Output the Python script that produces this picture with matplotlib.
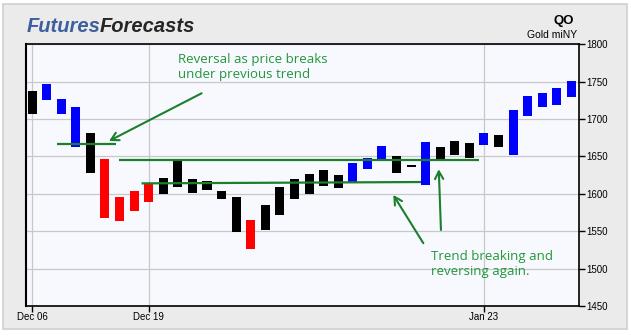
import matplotlib
matplotlib.use("Agg")
import matplotlib.pyplot as plt
from matplotlib import font_manager
from matplotlib.patches import Rectangle

# ---- data -------------------------------------------------------------
# Daily candle bodies (upper and lower edge of each body) for Gold miNY
body_top = [1737.5, 1747, 1727, 1716, 1681.5, 1647, 1596, 1604, 1614, 1621,
            1645, 1620, 1617, 1604, 1596, 1565.5, 1585, 1609, 1620, 1626.5,
            1632, 1625, 1641, 1648, 1664, 1650.5, 1638.5, 1669.5, 1662.5, 1670.5,
            1668, 1681.5, 1678.5, 1712, 1731, 1735, 1741.5, 1751]
body_bottom = [1707, 1726, 1707, 1663, 1628.5, 1568, 1564, 1577.5, 1589.5, 1600,
               1609.5, 1601.5, 1605.5, 1593, 1549.5, 1526.5, 1551.5, 1572, 1593, 1600,
               1610.5, 1608, 1614.5, 1633.5, 1645.5, 1628, 1636, 1612, 1645.5, 1652,
               1648, 1665.5, 1662.5, 1652, 1704, 1716, 1719, 1729.5]
# trend state of each bar: k = neutral, b = up trend, r = down trend
trend = ["k", "b", "b", "b", "k", "r", "r", "r", "r", "k",
         "k", "k", "k", "k", "k", "r", "k", "k", "k", "k",
         "k", "k", "b", "b", "b", "k", "k", "b", "k", "k",
         "k", "b", "k", "b", "b", "b", "b", "b"]
trend_colors = {"k": "#000000", "b": "#0000ff", "r": "#ff0000"}

date_tick_pos = [0, 8, 31]
date_tick_labels = ["Dec 06", "Dec 19", "Jan 23"]
price_ticks = [1450, 1500, 1550, 1600, 1650, 1700, 1750, 1800]

# trend lines drawn on the chart: (x0, y0, x1, y1)
trend_lines = [(1.72, 1666.3, 5.74, 1666.3),
               (5.97, 1645.3, 30.66, 1645.3),
               (7.51, 1614.0, 26.68, 1615.8)]
# arrows: (tail x, tail y, head x, head y)
arrows = [(11.63, 1734.5, 5.28, 1670.7),
          (26.84, 1534.0, 24.78, 1598.5),
          (28.05, 1551.7, 27.90, 1632.9)]
note_reversal = "Reversal as price breaks\nunder previous trend"
note_trend = "Trend breaking and\nreversing again."


def pick_family(names):
    for n in names:
        try:
            font_manager.findfont(font_manager.FontProperties(family=n),
                                  fallback_to_default=False)
            return n
        except Exception:
            continue
    return "DejaVu Sans"


logo_font = pick_family(["Liberation Sans Narrow", "Liberation Sans"])
note_font = pick_family(["Open Sans", "Noto Sans"])
tick_font = pick_family(["Liberation Sans"])

W, H = 631, 336
fig = plt.figure(figsize=(W / 100, H / 100), dpi=100, facecolor="white")

# panel background
fig.patches.append(Rectangle((3 / W, 1 - 329 / H), 624 / W, 325 / H,
                             transform=fig.transFigure, facecolor="#ebebeb",
                             edgecolor="#d0d0d0", linewidth=1.2, zorder=-5))

ax = fig.add_axes([25.5 / W, 1 - 306 / H, (579 - 25.5) / W, (306 - 44.3) / H])
ax.set_facecolor("#f8f9fe")

# candle bodies
n = len(body_top)
xs = list(range(n))
heights = [t - b for t, b in zip(body_top, body_bottom)]
ax.bar(xs, heights, bottom=body_bottom, width=0.62,
       color=[trend_colors[c] for c in trend], linewidth=0, zorder=3)

ax.set_xlim(-0.45, 37.52)
ax.set_ylim(1450, 1800)

ax.set_xticks(date_tick_pos)
ax.set_xticklabels(date_tick_labels, fontfamily=tick_font, fontsize=7)
ax.set_yticks(price_ticks)
ax.yaxis.tick_right()
ax.set_yticklabels([str(v) for v in price_ticks], fontfamily=tick_font, fontsize=7)
ax.tick_params(axis="both", direction="out", length=4, width=1, color="black", pad=1.5)
ax.tick_params(axis="x", pad=0.5)

ax.grid(True, color="#c8c8c8", linewidth=0.9, zorder=1)
ax.set_axisbelow(True)
for s in ax.spines.values():
    s.set_color("black")
    s.set_linewidth(1.2)
ax.spines["left"].set_linewidth(1.5)

line_green = "#1b7f2b"
text_green = "#21973a"
for x0, y0, x1, y1 in trend_lines:
    ax.plot([x0, x1], [y0, y1], color=line_green, linewidth=1.6, zorder=4,
            solid_capstyle="butt")
for tx, ty, hx, hy in arrows:
    ax.annotate("", xy=(hx, hy), xytext=(tx, ty),
                arrowprops=dict(arrowstyle="->,head_length=0.55,head_width=0.3",
                                color=line_green, linewidth=1.5,
                                shrinkA=0, shrinkB=0),
                zorder=5)

ax.text(10.0, 1789, note_reversal, color=text_green, fontsize=9.5,
        fontfamily=note_font, va="top", ha="left", linespacing=1.2, zorder=6)
ax.text(27.34, 1525, note_trend, color=text_green, fontsize=9.5,
        fontfamily=note_font, va="top", ha="left", linespacing=1.2, zorder=6)

# header: logo and instrument name
logo = fig.text(26.7 / W, 1 - 31.5 / H, "Futures", color="#3b5f9f",
                fontsize=14.5, fontweight="bold", fontstyle="italic",
                fontfamily=logo_font, ha="left", va="baseline")
fig.text(26.7 / W, 1 - 31.5 / H, "Forecasts", color="#262626",
         fontsize=14.5, fontweight="bold", fontstyle="italic",
         fontfamily=logo_font, ha="left", va="baseline")
fig.canvas.draw()
logo_bb = logo.get_window_extent()
fig.texts[-1].set_x((logo_bb.x1 - 1) / W)

fig.text(573.5 / W, 1 - 24.3 / H, "QO", fontsize=9.5, fontweight="bold",
         fontfamily=tick_font, ha="right", va="baseline", color="black")
fig.text(577 / W, 1 - 38 / H, "Gold miNY", fontsize=7.5,
         fontfamily=tick_font, ha="right", va="baseline", color="black")

fig.savefig("out.png", dpi=100, facecolor="white")
